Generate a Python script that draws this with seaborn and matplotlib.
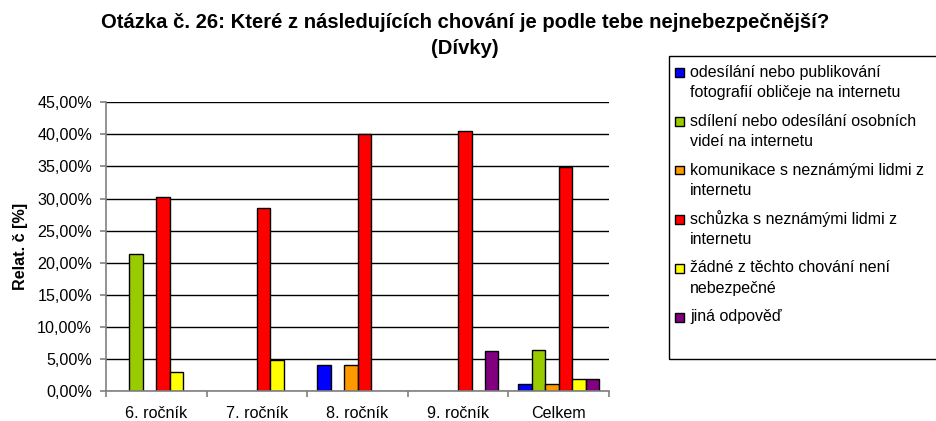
import matplotlib
matplotlib.use("Agg")
import matplotlib.pyplot as plt
from matplotlib.patches import Rectangle
from matplotlib.ticker import FuncFormatter, FixedLocator
import pandas as pd
import seaborn as sns

# ---- data -------------------------------------------------------------
categories = ["6. ročník", "7. ročník", "8. ročník", "9. ročník", "Celkem"]
answers = [
    "odesílání nebo publikování\nfotografií obličeje na internetu",
    "sdílení nebo odesílání osobních\nvideí na internetu",
    "komunikace s neznámými lidmi z\ninternetu",
    "schůzka s neznámými lidmi z\ninternetu",
    "žádné z těchto chování není\nnebezpečné",
    "jiná odpověď",
]
photos = [0.00, 0.00, 4.00, 0.00, 1.05]
videos = [21.28, 0.00, 0.00, 0.00, 6.40]
contact = [0.00, 0.00, 4.00, 0.00, 1.05]
meeting = [30.20, 28.45, 40.00, 40.60, 34.95]
nothing = [2.96, 4.79, 0.00, 0.00, 1.83]
other = [0.00, 0.00, 0.00, 6.19, 1.83]
y_ticks = [0, 5, 10, 15, 20, 25, 30, 35, 40, 45]

colors = ["#0000FF", "#99CC00", "#FF9900", "#FF0000", "#FFFF00", "#800080"]
title_lines = [
    "Otázka č. 26: Které z následujících chování je podle tebe nejnebezpečnější?",
    "(Dívky)",
]
y_label = "Relat. č [%]"

series = [photos, videos, contact, meeting, nothing, other]
rows = []
for answer, values in zip(answers, series):
    for cat, v in zip(categories, values):
        rows.append({"ročník": cat, "odpověď": answer, "podíl": v})
df = pd.DataFrame(rows)
df_drawn = df[df["podíl"] > 0]

# ---- figure -----------------------------------------------------------
W, H = 936, 421
sns.set_theme(style="white")
plt.rcParams["font.family"] = ["Liberation Sans", "DejaVu Sans"]

fig = plt.figure(figsize=(W / 100, H / 100), dpi=100)
fig.patch.set_facecolor("white")


def fx(x):
    return x / W


def fy(y):
    return 1 - y / H


ax = fig.add_axes([fx(106), fy(391), fx(609) - fx(106), fy(102.3) - fy(391)])

sns.barplot(
    data=df_drawn, x="ročník", y="podíl", hue="odpověď",
    order=categories, hue_order=answers,
    palette=dict(zip(answers, colors)), saturation=1,
    errorbar=None, width=0.8, edgecolor="black", linewidth=1.0,
    legend=False, ax=ax, zorder=3,
)

ax.set_ylim(0, 45)
ax.set_xlim(-0.5, len(categories) - 0.5)
ax.yaxis.set_major_locator(FixedLocator(y_ticks))
ax.yaxis.set_major_formatter(
    FuncFormatter(lambda v, _: f"{v:.2f}%".replace(".", ","))
)
ax.set_axisbelow(True)
ax.yaxis.grid(True, color="black", linewidth=1.0)
ax.xaxis.grid(False)

for side in ("top", "right"):
    ax.spines[side].set_visible(False)
for side in ("left", "bottom"):
    ax.spines[side].set_color("#808080")
    ax.spines[side].set_linewidth(1.2)
    ax.spines[side].set_zorder(4)

ax.set_xticks(range(len(categories)))
ax.set_xticklabels(categories)
ax.set_xticks([i - 0.5 for i in range(len(categories) + 1)], minor=True)
ax.tick_params(axis="x", which="major", length=0, pad=11, labelsize=11.6,
               colors="black")
ax.tick_params(axis="x", which="minor", length=4, width=1.2, color="#808080",
               direction="out", bottom=True)
ax.tick_params(axis="y", which="major", length=4, width=1.2, color="#808080",
               direction="out", left=True, pad=6, labelsize=11.6,
               labelcolor="black")

ax.set_xlabel("")
ax.set_ylabel(y_label, fontsize=11.6, fontweight="bold", color="black")
ax.yaxis.set_label_coords((28 - 106) / (609 - 106), 0.5)

# ---- title ------------------------------------------------------------
for line, yc in zip(title_lines, [23, 49]):
    fig.text(fx(465), fy(yc), line, ha="center", va="center",
             fontsize=14.6, fontweight="bold", color="black")

# ---- legend -----------------------------------------------------------
fig.add_artist(Rectangle((fx(669), fy(359)), fx(945) - fx(669),
                         fy(56) - fy(359), transform=fig.transFigure,
                         fill=False, edgecolor="black", linewidth=1.0))
y = 72
line_step = 20.5
entry_gap = 8
for answer, color in zip(answers, colors):
    fig.add_artist(Rectangle((fx(675), fy(y + 4.5)), fx(9), 9 / H,
                             transform=fig.transFigure, facecolor=color,
                             edgecolor="black", linewidth=1.0))
    lines = answer.split("\n")
    for k, text in enumerate(lines):
        fig.text(fx(690), fy(y + k * line_step), text, ha="left",
                 va="center", fontsize=11.5, color="black")
    y += len(lines) * line_step + entry_gap

fig.savefig("out.png", dpi=100, facecolor="white")
